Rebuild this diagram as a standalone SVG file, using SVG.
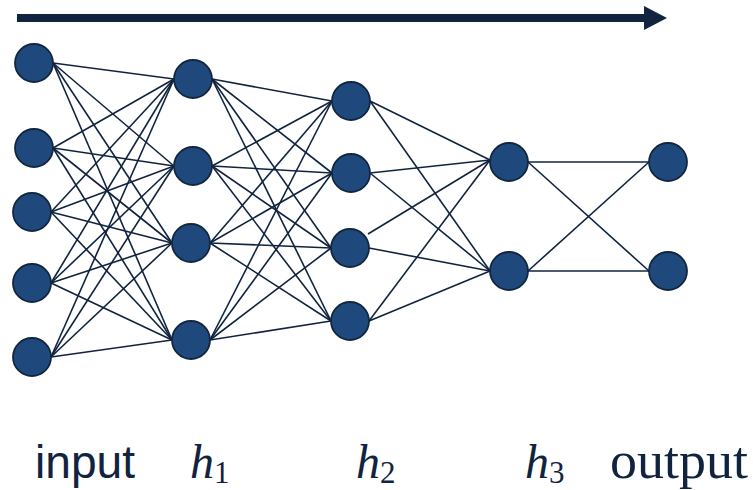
<svg xmlns="http://www.w3.org/2000/svg" width="753" height="490" viewBox="0 0 753 490">
<style>
.n{fill:#1f497d;stroke:#12263f;stroke-width:1.8}
.c line{stroke:#11243f;stroke-width:1.6}
.lbl{fill:#10233f}
.sans{font-family:"Liberation Sans",Arial,sans-serif;font-size:46px}
.ser{font-family:"Liberation Serif","DejaVu Serif",serif}
.h{font-style:italic;font-size:48px}
.sub{font-size:31px}
</style>
<defs>
<marker id="ah" markerUnits="userSpaceOnUse" markerWidth="24" markerHeight="26" refX="0" refY="12" orient="auto">
<path d="M0,0 L23,12 L0,24 z" fill="#10243f"/>
</marker>
</defs>
<g id="flow-arrow">
<line x1="17" y1="18" x2="644" y2="18" stroke="#10243f" stroke-width="8" marker-end="url(#ah)"/>
</g>
<g id="connectors" class="c">
<line x1="53" y1="63" x2="174" y2="79"/><line x1="53" y1="63" x2="174" y2="166"/><line x1="53" y1="63" x2="172" y2="243"/><line x1="53" y1="63" x2="172" y2="340"/>
<line x1="53" y1="148" x2="174" y2="79"/><line x1="53" y1="148" x2="174" y2="166"/><line x1="53" y1="148" x2="172" y2="243"/><line x1="53" y1="148" x2="172" y2="340"/>
<line x1="51" y1="212" x2="174" y2="79"/><line x1="51" y1="212" x2="174" y2="166"/><line x1="51" y1="212" x2="172" y2="243"/><line x1="51" y1="212" x2="172" y2="340"/>
<line x1="51" y1="283" x2="174" y2="79"/><line x1="51" y1="283" x2="174" y2="166"/><line x1="51" y1="283" x2="172" y2="243"/><line x1="51" y1="283" x2="172" y2="340"/>
<line x1="51" y1="357" x2="174" y2="79"/><line x1="51" y1="357" x2="174" y2="166"/><line x1="51" y1="357" x2="172" y2="243"/><line x1="51" y1="357" x2="172" y2="340"/>
<line x1="212" y1="79" x2="332" y2="101"/><line x1="212" y1="79" x2="332" y2="173"/><line x1="212" y1="79" x2="331" y2="248"/><line x1="212" y1="79" x2="331" y2="321"/>
<line x1="212" y1="166" x2="332" y2="101"/><line x1="212" y1="166" x2="332" y2="173"/><line x1="212" y1="166" x2="331" y2="248"/><line x1="212" y1="166" x2="331" y2="321"/>
<line x1="210" y1="243" x2="332" y2="101"/><line x1="210" y1="243" x2="332" y2="173"/><line x1="210" y1="243" x2="331" y2="248"/><line x1="210" y1="243" x2="331" y2="321"/>
<line x1="210" y1="340" x2="332" y2="101"/><line x1="210" y1="340" x2="332" y2="173"/><line x1="210" y1="340" x2="331" y2="248"/><line x1="210" y1="340" x2="331" y2="321"/>
<line x1="370" y1="101" x2="490" y2="160"/><line x1="370" y1="101" x2="490" y2="271"/>
<line x1="370" y1="173" x2="490" y2="160"/><line x1="370" y1="173" x2="490" y2="271"/>
<line x1="368" y1="234" x2="490" y2="160"/><line x1="369" y1="248" x2="490" y2="271"/>
<line x1="369" y1="321" x2="490" y2="160"/><line x1="369" y1="321" x2="490" y2="271"/>
<line x1="528" y1="162" x2="649" y2="162"/><line x1="528" y1="162" x2="649" y2="271"/>
<line x1="528" y1="271" x2="649" y2="162"/><line x1="528" y1="271" x2="649" y2="271"/>
</g>
<g id="in1"><circle class="n" cx="34" cy="63" r="19"/></g>
<g id="in2"><circle class="n" cx="34" cy="148" r="19"/></g>
<g id="in3"><circle class="n" cx="32" cy="212" r="19"/></g>
<g id="in4"><circle class="n" cx="32" cy="283" r="19"/></g>
<g id="in5"><circle class="n" cx="32" cy="357" r="19"/></g>
<g id="h1n1"><circle class="n" cx="193" cy="79" r="19"/></g>
<g id="h1n2"><circle class="n" cx="193" cy="166" r="19"/></g>
<g id="h1n3"><circle class="n" cx="191" cy="243" r="19"/></g>
<g id="h1n4"><circle class="n" cx="191" cy="340" r="19"/></g>
<g id="h2n1"><circle class="n" cx="351" cy="101" r="19"/></g>
<g id="h2n2"><circle class="n" cx="351" cy="173" r="19"/></g>
<g id="h2n3"><circle class="n" cx="350" cy="248" r="19"/></g>
<g id="h2n4"><circle class="n" cx="350" cy="321" r="19"/></g>
<g id="h3n1"><circle class="n" cx="509" cy="162" r="19"/></g>
<g id="h3n2"><circle class="n" cx="509" cy="271" r="19"/></g>
<g id="out1"><circle class="n" cx="668" cy="162" r="19"/></g>
<g id="out2"><circle class="n" cx="668" cy="271" r="19"/></g>
<g id="labels" class="lbl">
<text class="sans" x="35" y="478" textLength="100" lengthAdjust="spacingAndGlyphs">input</text>
<text class="ser h" x="190" y="478">h</text><text class="ser sub" x="214" y="483">1</text>
<text class="ser h" x="356" y="478">h</text><text class="ser sub" x="380" y="483">2</text>
<text class="ser h" x="525" y="478">h</text><text class="ser sub" x="549" y="483">3</text>
<text class="ser" x="610" y="478" font-size="52" textLength="138" lengthAdjust="spacingAndGlyphs">output</text>
</g>
</svg>
